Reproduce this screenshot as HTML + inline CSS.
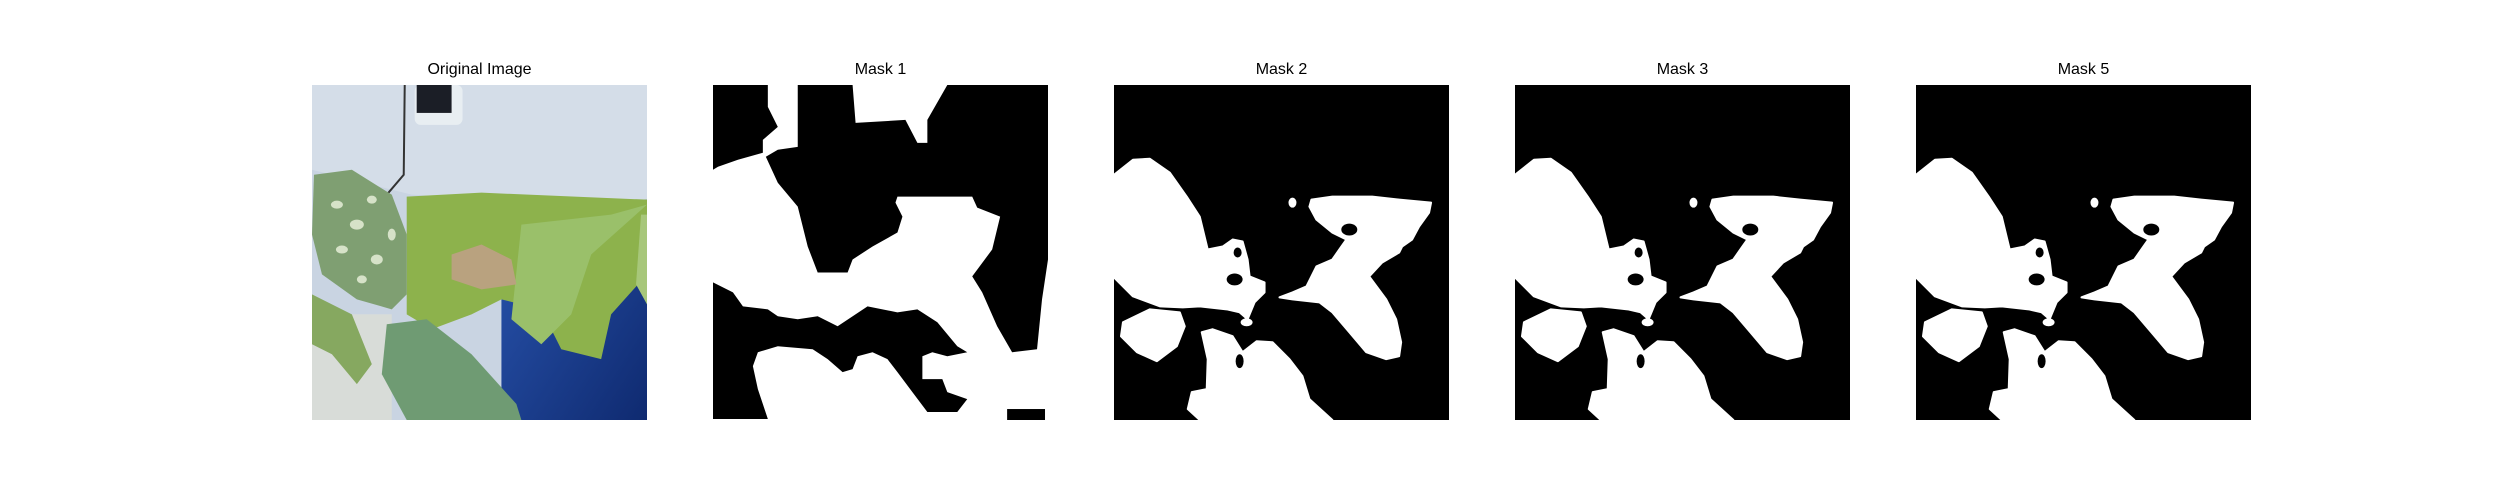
<!DOCTYPE html>
<html><head><meta charset="utf-8"><style>
html,body{margin:0;padding:0;background:#fff;}
#wrap{position:relative;width:2500px;height:500px;overflow:hidden;font-family:"Liberation Sans","DejaVu Sans",sans-serif;}
.panel{position:absolute;top:85px;width:335px;height:335px;}
.title{position:absolute;top:61px;width:335px;text-align:center;font-size:16px;color:#000;}
svg{display:block}
</style></head><body>
<div id="wrap">
<div class="title" style="left:312px">Original Image</div>
<div class="title" style="left:713px">Mask 1</div>
<div class="title" style="left:1114px">Mask 2</div>
<div class="title" style="left:1515px">Mask 3</div>
<div class="title" style="left:1916px">Mask 5</div>

<div class="panel" style="left:312px">
<svg width="335" height="335" viewBox="0 0 336 336" preserveAspectRatio="none">
<defs><linearGradient id="bl" x1="0" y1="0" x2="1" y2="1"><stop offset="0" stop-color="#2a56b0"/><stop offset="1" stop-color="#0f2a70"/></linearGradient></defs>
<rect width="336" height="336" fill="#c9d4e2"/>
<rect x="190" y="110" width="146" height="226" fill="url(#bl)"/>
<rect x="0" y="230" width="80" height="106" fill="#d8dcd8"/>
<path d="M0 0 H336 V115 H190 L100 110 L0 85 Z" fill="#d4dde8"/>
<rect x="103" y="0" width="48" height="40" rx="6" fill="#e8eef2"/>
<rect x="105" y="0" width="35" height="28" fill="#1b1e26"/>
<path d="M93 0 L92 90 L75 110" stroke="#333" stroke-width="2" fill="none"/>
<path d="M95 112 L170 108 L336 115 L336 190 L300 230 L290 275 L250 265 L230 225 L190 215 L160 230 L120 245 L95 230 Z" fill="#8db24c"/>
<path d="M210 140 L300 130 L336 120 L280 170 L260 230 L230 260 L200 235 Z" fill="#9ac06a"/>
<path d="M2 90 L40 85 L80 110 L95 150 L95 210 L80 225 L45 215 L10 190 L0 150 Z" fill="#7f9f72"/>
<g fill="#d6e2c8"><ellipse cx="25" cy="120" rx="6" ry="4"/><ellipse cx="45" cy="140" rx="7" ry="5"/><ellipse cx="60" cy="115" rx="5" ry="4"/><ellipse cx="30" cy="165" rx="6" ry="4"/><ellipse cx="65" cy="175" rx="6" ry="5"/><ellipse cx="80" cy="150" rx="4" ry="6"/><ellipse cx="50" cy="195" rx="5" ry="4"/></g>
<path d="M140 170 L170 160 L200 175 L205 200 L170 205 L140 195 Z" fill="#b9a27f"/>
<path d="M75 240 L115 235 L160 270 L205 320 L210 336 L95 336 L70 290 Z" fill="#6f9b73"/>
<path d="M0 210 L40 230 L60 280 L45 300 L20 270 L0 260 Z" fill="#86a860"/>
<path d="M330 130 L336 130 L336 220 L325 200 Z" fill="#a7c77a"/>
</svg></div>

<div class="panel" style="left:713px">
<svg width="335" height="335" viewBox="0 0 336 336" preserveAspectRatio="none">
<rect width="336" height="336" fill="#fff"/>
<g fill="#000">
<polygon points="0,0 55,0 55,22 65,42 50,55 50,68 25,75 5,82 0,85"/>
<polygon points="85,0 140,0 143,38 193,35 205,58 215,58 215,35 235,0 336,0 336,175 330,215 325,265 300,268 285,242 270,208 260,192 280,165 288,132 265,123 260,112 185,112 183,118 190,132 185,148 160,162 140,175 135,188 105,188 95,162 85,122 65,98 53,72 65,65 85,62"/>
<polygon points="0,198 20,208 30,222 55,225 65,232 85,235 105,232 125,242 155,222 185,228 205,225 225,238 245,262 255,268 235,272 220,268 210,272 210,295 230,295 235,308 255,315 245,328 215,328 200,308 185,288 175,275 160,268 145,272 140,285 130,288 115,275 100,265 65,262 45,268 40,282 45,305 55,335 0,335"/>
<rect x="295" y="325" width="38" height="11"/>
</g></svg></div>

<div class="panel" style="left:1114px"><svg width="335" height="335" viewBox="0 0 336 336" preserveAspectRatio="none"><use href="#blobs"/></svg></div>
<div class="panel" style="left:1515px"><svg width="335" height="335" viewBox="0 0 336 336" preserveAspectRatio="none"><use href="#blobs"/></svg></div>
<div class="panel" style="left:1916px"><svg width="335" height="335" viewBox="0 0 336 336" preserveAspectRatio="none"><use href="#blobs"/></svg></div>

<svg width="0" height="0" style="position:absolute"><defs><g id="blobs">
<rect width="336" height="336" fill="#000"/>
<g fill="#fff" stroke="#fff" stroke-width="2" stroke-linejoin="round">
<polygon points="0,90 19,75 36,74 56,88 73,112 86,132 94,165 109,162 119,155 129,157 134,175 136,192 151,198 151,208 141,218 134,235 126,228 113,225 86,222 69,223 46,222 19,212 0,193"/>
<polygon points="198,115 219,112 259,112 286,115 318,118 316,128 306,142 299,155 289,162 286,168 269,178 256,192 273,215 283,235 288,258 286,272 273,275 253,268 236,248 219,228 206,218 179,215 166,213 179,208 193,202 203,182 219,175 226,165 233,155 219,148 203,135 196,122"/>
<polygon points="9,238 36,225 66,228 71,242 63,262 43,277 23,268 7,252"/>
<polygon points="88,248 99,245 119,252 129,268 143,257 159,258 176,275 189,292 196,315 219,336 86,336 74,325 78,308 93,305 94,275"/>
<ellipse cx="179" cy="118" rx="3" ry="4"/>
<ellipse cx="133" cy="238" rx="5" ry="3"/>
</g>
<g fill="#000"><ellipse cx="121" cy="195" rx="8" ry="6"/><ellipse cx="236" cy="145" rx="8" ry="6"/><ellipse cx="126" cy="277" rx="4" ry="7"/><ellipse cx="124" cy="168" rx="4" ry="5"/></g>
</g></defs></svg>
</div>
</body></html>
